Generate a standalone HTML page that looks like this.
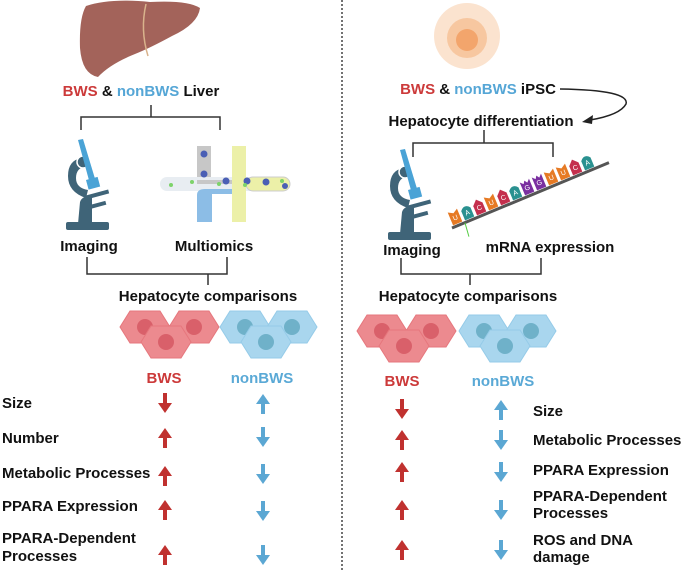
<!DOCTYPE html>
<html><head><meta charset="utf-8"><style>
html,body{margin:0;padding:0;background:#fff;}
svg{display:block;font-family:"Liberation Sans",Arial,sans-serif;font-weight:bold;}
</style></head><body>
<svg width="685" height="572" viewBox="0 0 685 572" xmlns="http://www.w3.org/2000/svg">
<defs>
<g id="mic">
 <rect x="0" y="82" width="43" height="8" rx="2" fill="#3f6478"/>
 <path d="M12 84 L14 62 Q16 56 24 56 L26 56 L26 84 Z" fill="#3f6478"/>
 <path d="M20 58 Q2 52 2 36 Q2 20 16 18 L20 26 Q10 28 10 38 Q10 48 22 50 Z" fill="#3f6478"/>
 <circle cx="17" cy="22" r="6" fill="#3f6478" stroke="#fff" stroke-width="1.5"/>
 <rect x="18" y="56" width="25" height="4" fill="#3f6478" transform="rotate(-15 18 56)"/>
 <rect x="20" y="66" width="20" height="4" fill="#3f6478" transform="rotate(-15 20 66)"/>
 <path d="M12 0 L17 -1 L30 42 L24 44 Z" fill="#4aa3d6"/>
 <rect x="20" y="40" width="12" height="10" fill="#4aa3d6" transform="rotate(-15 20 40)"/>
</g>
<g id="hexr">
 <path d="M-25 0 L-15 -16 L15 -16 L25 0 L15 16 L-15 16 Z" fill="#ec8a8f" stroke="#e6777d" stroke-width="1"/>
 <circle cx="0" cy="0" r="8" fill="#d9606a"/>
</g>
<g id="hexb">
 <path d="M-25 0 L-15 -16 L15 -16 L25 0 L15 16 L-15 16 Z" fill="#a9d6ee" stroke="#95cbe8" stroke-width="1"/>
 <circle cx="0" cy="0" r="8" fill="#6fb1c9"/>
</g>
<g id="up"><rect x="-2" y="-3" width="4" height="13" fill="currentColor"/><path d="M-7 0 L0 -10 L7 0 Z" fill="currentColor"/></g>
<g id="dn"><rect x="-2" y="-10" width="4" height="13" fill="currentColor"/><path d="M-7 0 L0 10 L7 0 Z" fill="currentColor"/></g>
</defs>

<line x1="342" y1="0" x2="342" y2="572" stroke="#444" stroke-width="1.5" stroke-dasharray="2,2"/>

<!-- Liver -->
<path d="M86 6 Q110 -2 150 2 Q188 0 200 8 Q198 24 172 36 Q150 48 135 54 Q110 64 98 77 Q82 74 80 48 Q79 18 86 6 Z" fill="#a3635a"/>
<path d="M146 4 Q140 30 148 56" stroke="#d9b38c" stroke-width="1.5" fill="none"/>
<text x="141" y="96" font-size="15" text-anchor="middle"><tspan fill="#cc3a3a">BWS</tspan><tspan fill="#111"> &amp; </tspan><tspan fill="#55a6d6">nonBWS</tspan><tspan fill="#111"> Liver</tspan></text>
<path d="M151 105 V117 M81 130 V117 H220 V130" stroke="#333" stroke-width="1.5" fill="none"/>
<use href="#mic" x="66" y="140"/>
<rect x="197" y="146" width="14" height="34" fill="#c7c7c7"/>
<rect x="160" y="177" width="130" height="14" rx="7" fill="#e8edf2"/>
<rect x="232" y="146" width="14" height="76" fill="#ecf0a8"/>
<rect x="246" y="177" width="44" height="14" rx="7" fill="#ecf0a8" stroke="#ccc"/>
<path d="M197 180 H232 V184 H197 Z" fill="#c7c7c7"/>
<path d="M197 222 V195 Q197 189 205 189 H232 V194 H212 V222 Z" fill="#8cbde6"/>
<circle cx="204" cy="154" r="3.5" fill="#4a5fb5"/><circle cx="204" cy="174" r="3.5" fill="#4a5fb5"/>
<circle cx="226" cy="181" r="3.5" fill="#4a5fb5"/><circle cx="247" cy="181" r="3.5" fill="#4a5fb5"/>
<circle cx="266" cy="182" r="3.5" fill="#4a5fb5"/><circle cx="285" cy="186" r="3" fill="#4a5fb5"/>
<circle cx="171" cy="185" r="2" fill="#7dd36a"/><circle cx="192" cy="182" r="2" fill="#7dd36a"/><circle cx="219" cy="184" r="2" fill="#7dd36a"/><circle cx="245" cy="185" r="2" fill="#7dd36a"/><circle cx="282" cy="181" r="2" fill="#7dd36a"/>
<text x="89" y="251" font-size="15" text-anchor="middle" fill="#111">Imaging</text>
<text x="214" y="251" font-size="15" text-anchor="middle" fill="#111">Multiomics</text>
<path d="M87 257 V274 H227 V257 M208 274 V285" stroke="#333" stroke-width="1.5" fill="none"/>
<text x="208" y="301" font-size="15" text-anchor="middle" fill="#111">Hepatocyte comparisons</text>
<use href="#hexr" x="145" y="327"/><use href="#hexr" x="194" y="327"/><use href="#hexr" x="166" y="342"/>
<use href="#hexb" x="245" y="327"/><use href="#hexb" x="292" y="327"/><use href="#hexb" x="266" y="342"/>
<text x="164" y="383" font-size="15" text-anchor="middle" fill="#cc3a3a">BWS</text>
<text x="262" y="383" font-size="15" text-anchor="middle" fill="#5aa9d6">nonBWS</text>
<g font-size="15" fill="#111">
<text x="2" y="408">Size</text>
<text x="2" y="443">Number</text>
<text x="2" y="478">Metabolic Processes</text>
<text x="2" y="511">PPARA Expression</text>
<text x="2" y="543">PPARA-Dependent</text>
<text x="2" y="561">Processes</text>
</g>
<g color="#c0312f"><use href="#dn" x="165" y="403"/><use href="#up" x="165" y="438"/><use href="#up" x="165" y="476"/><use href="#up" x="165" y="510"/><use href="#up" x="165" y="555"/></g>
<g color="#5ba7d3"><use href="#up" x="263" y="404"/><use href="#dn" x="263" y="437"/><use href="#dn" x="263" y="474"/><use href="#dn" x="263" y="511"/><use href="#dn" x="263" y="555"/></g>

<!-- iPSC -->
<circle cx="467" cy="36" r="33" fill="#fbe3cf"/>
<circle cx="467" cy="38" r="20" fill="#f7c7a0"/>
<circle cx="467" cy="40" r="11" fill="#f3a56c"/>
<text x="478" y="94" font-size="15" text-anchor="middle"><tspan fill="#cc3a3a">BWS</tspan><tspan fill="#111"> &amp; </tspan><tspan fill="#55a6d6">nonBWS</tspan><tspan fill="#111"> iPSC</tspan></text>
<path d="M560 89 Q630 90 626 104 Q620 115 590 120" stroke="#222" stroke-width="1.5" fill="none"/>
<path d="M582 122 L593 115 L592 124 Z" fill="#222"/>
<text x="481" y="126" font-size="15" text-anchor="middle" fill="#111">Hepatocyte differentiation</text>
<path d="M484 130 V143 M413 157 V143 H553 V157" stroke="#333" stroke-width="1.5" fill="none"/>
<use href="#mic" x="388" y="150"/>
<g transform="translate(452,228) rotate(-22.6)">
 <line x1="0" y1="0" x2="170" y2="0" stroke="#555" stroke-width="3"/>
 <line x1="14" y1="0" x2="18" y2="14" stroke="#55cc44" stroke-width="1" transform="rotate(22.6 14 0)"/>
 <g font-size="7" fill="#fff" text-anchor="middle" font-weight="normal">
 <g transform="translate(2,-2)"><path d="M0 0 V-14 L5 -11 L10 -14 V0 Z" fill="#e67a24"/><text x="5" y="-4">U</text></g>
 <g transform="translate(15,-2)"><path d="M0 0 V-10 Q5 -16 10 -10 V0 Z" fill="#2a9190"/><text x="5" y="-4">A</text></g>
 <g transform="translate(28,-2)"><path d="M0 0 V-10 L5 -15 L10 -10 V0 Z" fill="#c42f4d"/><text x="5" y="-4">C</text></g>
 <g transform="translate(41,-2)"><path d="M0 0 V-14 L5 -11 L10 -14 V0 Z" fill="#e67a24"/><text x="5" y="-4">U</text></g>
 <g transform="translate(54,-2)"><path d="M0 0 V-10 L5 -15 L10 -10 V0 Z" fill="#c42f4d"/><text x="5" y="-4">C</text></g>
 <g transform="translate(67,-2)"><path d="M0 0 V-10 Q5 -16 10 -10 V0 Z" fill="#2a9190"/><text x="5" y="-4">A</text></g>
 <g transform="translate(80,-2)"><path d="M0 0 V-14 L3 -11 L5 -14 L7 -11 L10 -14 V0 Z" fill="#7a2fa0"/><text x="5" y="-4">G</text></g>
 <g transform="translate(93,-2)"><path d="M0 0 V-14 L3 -11 L5 -14 L7 -11 L10 -14 V0 Z" fill="#7a2fa0"/><text x="5" y="-4">G</text></g>
 <g transform="translate(106,-2)"><path d="M0 0 V-14 L5 -11 L10 -14 V0 Z" fill="#e67a24"/><text x="5" y="-4">U</text></g>
 <g transform="translate(119,-2)"><path d="M0 0 V-14 L5 -11 L10 -14 V0 Z" fill="#e67a24"/><text x="5" y="-4">U</text></g>
 <g transform="translate(132,-2)"><path d="M0 0 V-10 L5 -15 L10 -10 V0 Z" fill="#c42f4d"/><text x="5" y="-4">C</text></g>
 <g transform="translate(145,-2)"><path d="M0 0 V-10 Q5 -16 10 -10 V0 Z" fill="#2a9190"/><text x="5" y="-4">A</text></g>
 </g>
</g>
<text x="412" y="255" font-size="15" text-anchor="middle" fill="#111">Imaging</text>
<text x="550" y="252" font-size="15" text-anchor="middle" fill="#111">mRNA expression</text>
<path d="M401 258 V274 H541 V258 M470 274 V285" stroke="#333" stroke-width="1.5" fill="none"/>
<text x="468" y="301" font-size="15" text-anchor="middle" fill="#111">Hepatocyte comparisons</text>
<use href="#hexr" x="382" y="331"/><use href="#hexr" x="431" y="331"/><use href="#hexr" x="404" y="346"/>
<use href="#hexb" x="484" y="331"/><use href="#hexb" x="531" y="331"/><use href="#hexb" x="505" y="346"/>
<text x="402" y="386" font-size="15" text-anchor="middle" fill="#cc3a3a">BWS</text>
<text x="503" y="386" font-size="15" text-anchor="middle" fill="#5aa9d6">nonBWS</text>
<g font-size="15" fill="#111">
<text x="533" y="416">Size</text>
<text x="533" y="445">Metabolic Processes</text>
<text x="533" y="475">PPARA Expression</text>
<text x="533" y="501">PPARA-Dependent</text>
<text x="533" y="518">Processes</text>
<text x="533" y="545">ROS and DNA</text>
<text x="533" y="562">damage</text>
</g>
<g color="#c0312f"><use href="#dn" x="402" y="409"/><use href="#up" x="402" y="440"/><use href="#up" x="402" y="472"/><use href="#up" x="402" y="510"/><use href="#up" x="402" y="550"/></g>
<g color="#5ba7d3"><use href="#up" x="501" y="410"/><use href="#dn" x="501" y="440"/><use href="#dn" x="501" y="472"/><use href="#dn" x="501" y="510"/><use href="#dn" x="501" y="550"/></g>
</svg>
</body></html>
